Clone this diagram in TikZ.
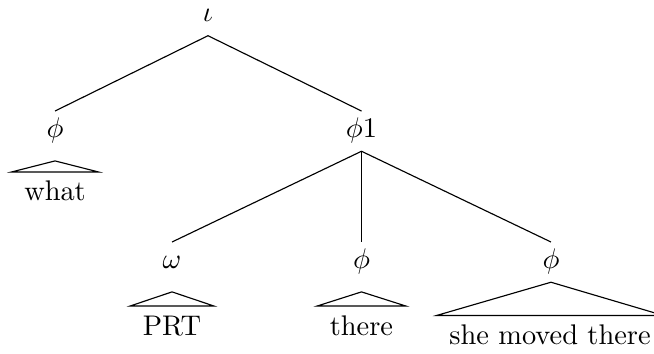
\documentclass[tikz,border=0pt]{standalone}
\begin{document}
\begin{tikzpicture}[
    cat/.style={anchor=base, text height=5.8pt, text depth=1.3pt},
    leaf/.style={anchor=base, text height=6.94pt, text depth=0pt, inner xsep=4.3pt, inner ysep=3.06pt}
    ]
    \useasboundingbox (0,0) rectangle (8.094,4.381);
    
    % categories
    \node[cat] (iota) at (2.574,4.109) {$\iota$};
    \node[cat] (phiL) at (0.681,2.679) {$\phi$};
    \node[cat] (phiA) at (4.474,2.679) {$\phi1$};
    \node[cat] (omega) at (2.129,1.058) {$\omega$};
    \node[cat] (phiM) at (4.474,1.058) {$\phi$};
    \node[cat] (phiR) at (6.819,1.058) {$\phi$};
    
    % words
    \node[leaf] (what) at (0.681,1.894) {what};
    \node[leaf] (prt) at (2.129,0.235) {PRT};
    \node[leaf] (there) at (4.474,0.235) {there};
    \node[leaf] (smt) at (6.807,0.118) {she moved there};
    
    \draw (iota.south) -- (phiL.north);
    \draw (iota.south) -- (phiA.north);
    \draw (phiA.south) -- (omega.north);
    \draw (phiA.south) -- (phiM.north);
    \draw (phiA.south) -- (phiR.north);
    
    % roofs
    \draw ([yshift=-3.4pt]phiL.south) -- (what.north east) -- (what.north west) -- cycle;
    \draw ([yshift=-3.4pt]omega.south) -- (prt.north east) -- (prt.north west) -- cycle;
    \draw ([yshift=-3.4pt]phiM.south) -- (there.north east) -- (there.north west) -- cycle;
    \draw (phiR.south) -- (smt.north east) -- (smt.north west) -- cycle;
\end{tikzpicture}
\end{document}
